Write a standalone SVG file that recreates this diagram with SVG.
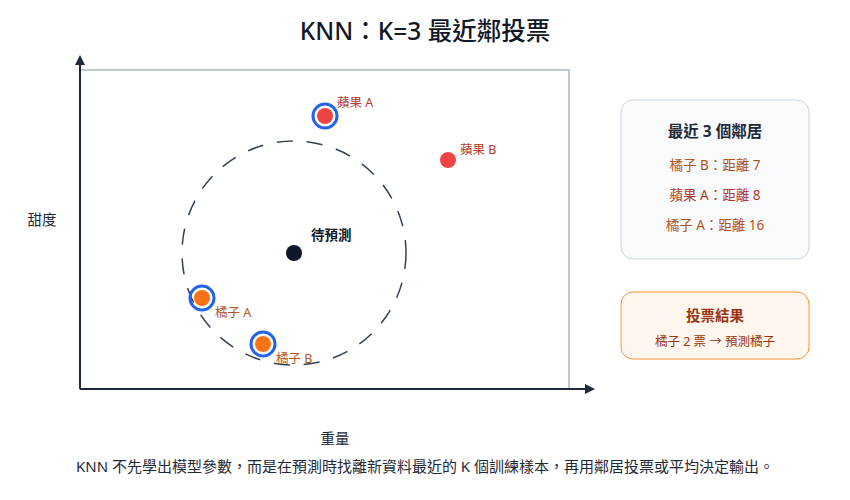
<svg xmlns="http://www.w3.org/2000/svg" width="850" height="500" viewBox="0 0 850 500">
<style>
text{font-family:"Noto Sans","Noto Sans CJK TC",sans-serif}
.lbl{font-size:12.5px;fill:#b23a2e}
.olbl{font-size:12.5px;fill:#b4531a}
.ring{fill:none;stroke:#2563eb;stroke-width:3}
</style>
<defs><marker id="ah" markerWidth="10" markerHeight="10" refX="8" refY="5" orient="auto" markerUnits="userSpaceOnUse"><path d="M0,0 L10,5 L0,10 Z" fill="#1e293b"/></marker></defs>
<rect width="850" height="500" fill="#fff"/>
<text x="425" y="40" text-anchor="middle" font-size="24.5" font-weight="500" fill="#111827">KNN：K=3 最近鄰投票</text>
<rect x="80" y="70" width="489" height="319" fill="none" stroke="#94a3b8" stroke-width="1.2"/>
<g id="connectors">
<line x1="80" y1="389" x2="80" y2="57" stroke="#1e293b" stroke-width="2" marker-end="url(#ah)"/>
<line x1="80" y1="389" x2="593" y2="389" stroke="#1e293b" stroke-width="2" marker-end="url(#ah)"/>
<circle cx="294" cy="253" r="112" fill="none" stroke="#334155" stroke-width="1.5" stroke-dasharray="16 14"/>
</g>
<text x="42" y="225" text-anchor="middle" font-size="14.5" fill="#1f2937">甜度</text>
<text x="335" y="444" text-anchor="middle" font-size="14.5" fill="#1f2937">重量</text>
<g id="appleA"><circle cx="325" cy="116" r="12" class="ring"/><circle cx="325" cy="116" r="8" fill="#ef4444"/><text x="337" y="107" class="lbl">蘋果 A</text></g>
<g id="appleB"><circle cx="448" cy="160" r="8" fill="#ef4444"/><text x="460" y="154" class="lbl">蘋果 B</text></g>
<g id="orangeA"><circle cx="202" cy="298" r="12" class="ring"/><circle cx="202" cy="298" r="8" fill="#f97316"/><text x="215" y="317" class="olbl">橘子 A</text></g>
<g id="orangeB"><circle cx="263" cy="344" r="12" class="ring"/><circle cx="263" cy="344" r="8" fill="#f97316"/><text x="276" y="363" class="olbl">橘子 B</text></g>
<g id="query"><circle cx="294" cy="253" r="8" fill="#0f172a"/><text x="311" y="240" font-size="13.5" font-weight="700" fill="#111827">待預測</text></g>
<g id="neighbors"><rect x="621" y="100" width="188" height="159" rx="12" fill="#f8fafc" stroke="#cbd5e1"/>
<text x="715" y="137" text-anchor="middle" font-size="15.5" font-weight="700" fill="#1f2937">最近 3 個鄰居</text>
<text x="715" y="170" text-anchor="middle" font-size="13.5" fill="#b4531a">橘子 B：距離 7</text>
<text x="715" y="200" text-anchor="middle" font-size="13.5" fill="#b23a2e">蘋果 A：距離 8</text>
<text x="715" y="230" text-anchor="middle" font-size="13.5" fill="#b4531a">橘子 A：距離 16</text></g>
<g id="result"><rect x="621" y="292" width="188" height="67" rx="12" fill="#fff7ed" stroke="#fb923c"/>
<text x="715" y="321" text-anchor="middle" font-size="14.5" font-weight="700" fill="#9a3412">投票結果</text>
<text x="715" y="346" text-anchor="middle" font-size="12.5" fill="#9a3412">橘子 2 票 → 預測橘子</text></g>
<text x="425" y="472" text-anchor="middle" font-size="15" fill="#1f2937">KNN 不先學出模型參數，而是在預測時找離新資料最近的 K 個訓練樣本，再用鄰居投票或平均決定輸出。</text>
</svg>
